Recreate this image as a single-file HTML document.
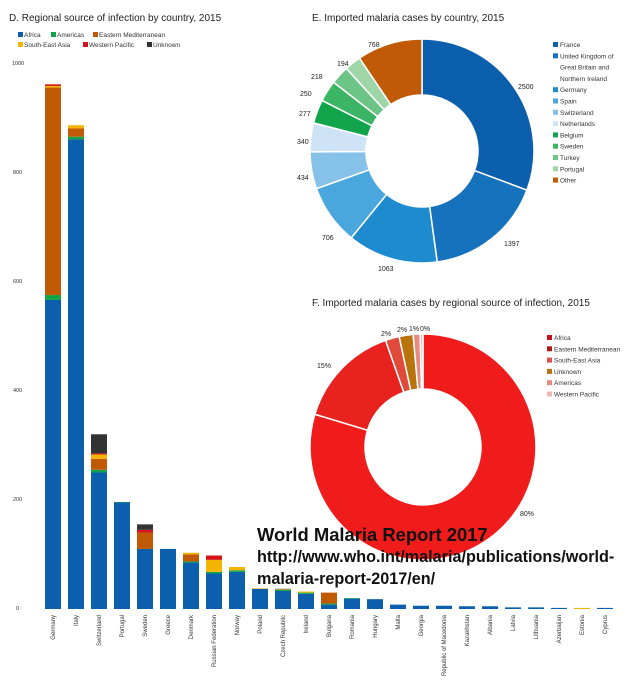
<!DOCTYPE html>
<html><head><meta charset="utf-8"><style>
body{margin:0;background:#fff;width:644px;height:694px;overflow:hidden;font-family:"Liberation Sans",sans-serif}
svg{display:block}
</style></head><body>
<svg id="s" width="644" height="694" xmlns="http://www.w3.org/2000/svg" font-family="Liberation Sans, sans-serif">
<text x="9" y="21" font-size="10" fill="#222">D. Regional source of infection by country, 2015</text>
<g font-size="6.5" fill="#333">
<rect x="18" y="32" width="5" height="5" fill="#0b5fad"/><text x="24" y="37">Africa</text>
<rect x="51" y="32" width="5" height="5" fill="#12a44a"/><text x="57" y="37">Americas</text>
<rect x="93" y="32" width="5" height="5" fill="#c05a06"/><text x="99" y="37">Eastern Mediterranean</text>
<rect x="18" y="42" width="5" height="5" fill="#f5b400"/><text x="24" y="47">South-East Asia</text>
<rect x="83" y="42" width="5" height="5" fill="#d7141a"/><text x="89" y="47">Western Pacific</text>
<rect x="147" y="42" width="5" height="5" fill="#333"/><text x="153" y="47">Unknown</text>
</g>
<g font-size="5.5" fill="#333">
<text x="12" y="65">1000</text><text x="13" y="174">800</text><text x="13" y="283">600</text><text x="13" y="392">400</text><text x="13" y="501">200</text><text x="16" y="610">0</text>
</g>
<g id="bars"></g>
<g id="labels" font-size="6" fill="#333"></g>
<text x="312" y="21" font-size="10" fill="#222">E. Imported malaria cases by country, 2015</text>
<g id="e"></g>
<g font-size="6.5" fill="#333" id="elg"></g>
<text x="312" y="306" font-size="10" fill="#222">F. Imported malaria cases by regional source of infection, 2015</text>
<g id="f"></g>
<g font-size="6.5" fill="#333" id="flg"></g>
<g font-family="Liberation Sans, sans-serif" font-weight="bold" fill="#111">
<text x="257" y="541" font-size="18.4">World Malaria Report 2017</text>
<text x="257" y="562" font-size="16.2">http://www.who.int/malaria/publications/world-</text>
<text x="257" y="584" font-size="16.2">malaria-report-2017/en/</text>
</g>
</svg>
<script>
var NS="http://www.w3.org/2000/svg";
function el(p,t,a,txt){var e=document.createElementNS(NS,t);for(var k in a)e.setAttribute(k,a[k]);if(txt!=null)e.textContent=txt;document.getElementById(p).appendChild(e);return e;}
var C=["#0b5fad","#12a44a","#c05a06","#f5b400","#d7141a","#333"];
var data=[["Germany",[566,9,380,3,3,0]],["Italy",[860,5,15,6,0,0]],["Switzerland",[250,5,20,8,2,35]],["Portugal",[195,1,0,0,0,0]],["Sweden",[110,0,30,0,5,10]],["Greece",[110,0,0,0,0,0]],["Denmark",[85,2,13,3,0,0]],["Russian Federation",[65,3,0,22,8,0]],["Norway",[68,3,0,6,0,0]],["Poland",[37,0,0,1,0,0]],["Czech Republic",[33,2,0,1,0,1]],["Ireland",[28,2,0,2,0,0]],["Bulgaria",[8,2,20,0,0,0]],["Romania",[19,1,0,0,0,0]],["Hungary",[18,0,0,0,0,0]],["Malta",[8,0,0,0,0,0]],["Georgia",[6,0,0,0,0,0]],["Republic of Macedonia",[6,0,0,0,0,0]],["Kazakhstan",[5,0,0,0,0,0]],["Albania",[5,0,0,0,0,0]],["Latvia",[3,0,0,0,0,0]],["Lithuania",[3,0,0,0,0,0]],["Azerbaijan",[2,0,0,0,0,0]],["Estonia",[0,0,0,2,0,0]],["Cyprus",[2,0,0,0,0,0]]];
data.forEach(function(d,i){var x=45+i*23.0,y=609;d[1].forEach(function(v,j){if(!v)return;var h=v*0.546;y-=h;el("bars","rect",{x:x,y:y,width:16,height:h,fill:C[j]});});
var t=el("labels","text",{x:0,y:0,"text-anchor":"end",transform:"translate("+(x+10)+",615) rotate(-90)"},d[0]);});
function arc(g,cx,cy,R,r,vals,cols){var tot=vals.reduce(function(a,b){return a+b},0),a=-Math.PI/2;vals.forEach(function(v,i){var b=a+v/tot*2*Math.PI;var p=function(rr,t){return (cx+rr*Math.cos(t)).toFixed(2)+" "+(cy+rr*Math.sin(t)).toFixed(2)};var lg=(b-a)>Math.PI?1:0;
el(g,"path",{d:"M"+p(R,a)+"A"+R+" "+R+" 0 "+lg+" 1 "+p(R,b)+"L"+p(r,b)+"A"+r+" "+r+" 0 "+lg+" 0 "+p(r,a)+"Z",fill:cols[i],stroke:"#fff","stroke-width":1.5});a=b;});}
var ev=[2500,1397,1063,706,434,340,277,250,218,194,768],ec=["#0b5fad","#1672bd","#1f8bcf","#4aa7de","#86c1ea","#cfe3f6","#12a44a","#3bb563","#6cc487","#9fd6a8","#c05a06"];
arc("e",422,151,112,56,ev,ec);
[["2500",518,89],["1397",504,246],["1063",378,271],["706",322,240],["434",297,180],["340",297,144],["277",299,116],["250",300,96],["218",311,79],["194",337,66],["768",368,47]].forEach(function(l){el("e","text",{x:l[1],y:l[2],"font-size":7,fill:"#222"},l[0]);});
var en=["France","United Kingdom of","Great Britain and","Northern Ireland","Germany","Spain","Switzerland","Netherlands","Belgium","Sweden","Turkey","Portugal","Other"],yy=47,ci=0;
en.forEach(function(n,i){if(i==2||i==3){el("elg","text",{x:560,y:yy},n);yy+=11.3;return;}el("elg","rect",{x:553,y:yy-5,width:5,height:5,fill:ec[ci]});el("elg","text",{x:560,y:yy},n);ci++;yy+=11.3;});
var fv=[80,15,2,2,1,0.4],fc=["#f01c1c","#e8221e","#e04a3a","#b8730a","#e88a80","#f4b8b0"];
arc("f",423,447,113,58,fv,fc);
[["15%",317,368],["2%",381,336],["2%",397,332],["1%",409,331],["0%",420,331],["80%",520,516]].forEach(function(l){el("f","text",{x:l[1],y:l[2],"font-size":7,fill:"#222"},l[0]);});
["Africa","Eastern Mediterranean","South-East Asia","Unknown","Americas","Western Pacific"].forEach(function(n,i){var y=340+i*11.3;el("flg","rect",{x:547,y:y-5,width:5,height:5,fill:["#c0141a","#b01a1a","#e0504a","#b8730a","#e88a80","#f4b8b0"][i]});el("flg","text",{x:554,y:y},n);});
</script>
</body></html>
